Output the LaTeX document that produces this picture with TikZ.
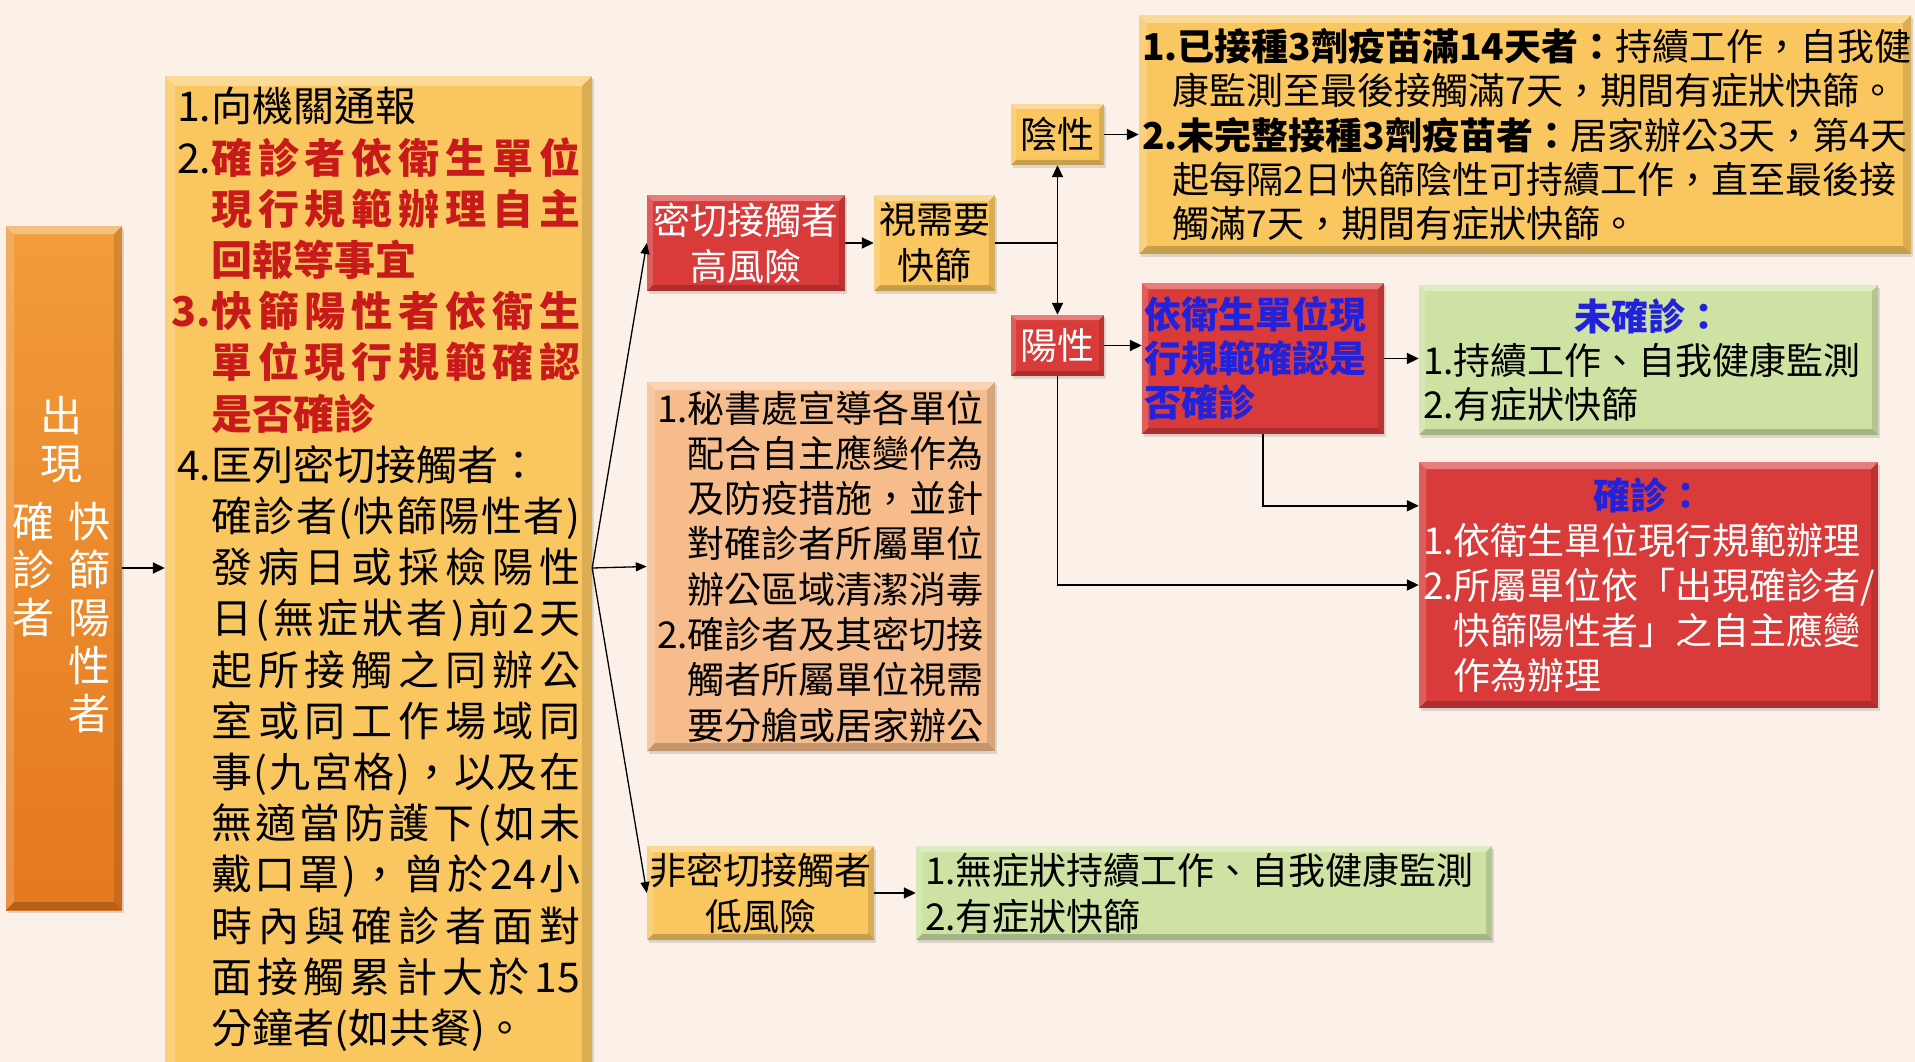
\documentclass[tikz,border=0pt]{standalone}
\usepackage{fontspec}
\setmainfont{Noto Sans CJK TC}
\usetikzlibrary{arrows.meta,shadows}
\definecolor{bg}{HTML}{FBF1E8}
\definecolor{yel}{HTML}{F9C660}
\definecolor{orgT}{HTML}{F29C3C}
\definecolor{orgB}{HTML}{E5781E}
\definecolor{redb}{HTML}{D93A3A}
\definecolor{grn}{HTML}{CEE2A4}
\definecolor{pch}{HTML}{F6BC8C}
\definecolor{rtx}{HTML}{C81A1A}
\definecolor{btx}{HTML}{2222DD}
\makeatletter
\def\spr#1{\spr@a#1\spr@stop\spr@end}
\def\spr@stop{\spr@stop@}
\def\spr@a#1#2\spr@end{#1\ifx\spr@stop#2\else\hfill\spr@a#2\spr@end\fi}
\makeatother
\newcommand\J[1]{\hbox to 369pt{\spr{#1}}}
\newcommand\rd{\color{rtx}\bfseries}
\newcommand\blu{\color{btx}\bfseries}
\newcommand\Lns[1]{\vtop{\lineskiplimit=-100pt\lineskip=0pt\let\\\cr\halign{##\hfil\cr#1\crcr}}}
\newcommand\leftlbl{\vtop{\baselineskip=48pt\lineskiplimit=-100pt\lineskip=0pt\halign{\hfil##\hfil\hskip14pt&\hfil##\hfil\cr\multispan2\hfil 出\hfil\cr\multispan2\hfil 現\hfil\cr\noalign{\vskip10pt}確&快\cr 診&篩\cr 者&陽\cr &性\cr &者\cr}}}
\tikzset{
  bev/.style={path picture={
    \fill[white,opacity=.35] (path picture bounding box.north west) -- (path picture bounding box.north east) -- ([xshift=-#1pt,yshift=-#1pt]path picture bounding box.north east) -- ([xshift=#1pt,yshift=-#1pt]path picture bounding box.north west) -- cycle;
    \fill[white,opacity=.18] (path picture bounding box.north west) -- ([xshift=#1pt,yshift=-#1pt]path picture bounding box.north west) -- ([xshift=#1pt,yshift=#1pt]path picture bounding box.south west) -- (path picture bounding box.south west) -- cycle;
    \fill[black,opacity=.12] (path picture bounding box.north east) -- ([xshift=-#1pt,yshift=-#1pt]path picture bounding box.north east) -- ([xshift=-#1pt,yshift=#1pt]path picture bounding box.south east) -- (path picture bounding box.south east) -- cycle;
    \fill[black,opacity=.2] (path picture bounding box.south west) -- ([xshift=#1pt,yshift=#1pt]path picture bounding box.south west) -- ([xshift=-#1pt,yshift=#1pt]path picture bounding box.south east) -- (path picture bounding box.south east) -- cycle;
  }},
  bx/.style={rectangle, inner sep=0pt, drop shadow={shadow xshift=2pt,shadow yshift=-3pt,opacity=.25}, bev=#1},
  arr/.style={-{Triangle[length=12pt,width=11pt]}, line width=1.8pt},
  farr/.style={-{Triangle[length=11pt,width=9pt]}, line width=1.3pt},
  ln/.style={line width=1.8pt},
  f37/.style={font=\fontsize{37}{46}\selectfont},
}
\begin{document}
\begin{tikzpicture}[x=1pt,y=-1pt]
\useasboundingbox (0,0) rectangle (1915,1062);
\fill[bg] (0,0) rectangle (1915,1062);
% boxes
\node[bx=8, top color=orgT, bottom color=orgB, minimum width=116pt, minimum height=684pt] (left) at (64,568) {};
\node[anchor=base west, inner sep=0pt, text=white, font=\fontsize{42}{48}\selectfont] (leftT) at (12,431) {\leftlbl};
\node[bx=10, fill=yel, minimum width=427pt, minimum height=1000pt] (big) at (378.5,576) {};
\node[anchor=base west, inner sep=0pt, font=\fontsize{41}{51.2}\selectfont] (bigT) at (211,121.9) {\Lns{%
\llap{1.}向機關通報\\
\llap{2.}{\rd\J{確診者依衛生單位}}\\
{\rd\J{現行規範辦理自主}}\\
{\rd 回報等事宜}\\
{\rd\llap{3.}\J{快篩陽性者依衛生}}\\
{\rd\J{單位現行規範確認}}\\
{\rd 是否確診}\\
\llap{4.}匡列密切接觸者：\\
\J{確診者(快篩陽性者)}\\
\J{發病日或採檢陽性}\\
\J{日(無症狀者)前2天}\\
\J{起所接觸之同辦公}\\
\J{室或同工作場域同}\\
\J{事(九宮格)，以及在}\\
\J{無適當防護下(如未}\\
\J{戴口罩)，曾於{24}小}\\
\J{時內與確診者面對}\\
\J{面接觸累計大於{15}}\\
分鐘者(如共餐)。}};
\node[bx=6, fill=redb, minimum width=198pt, minimum height=96pt, f37, text=white, align=center] (hi) at (746,243) {密切接觸者\\高風險};
\node[bx=6, fill=yel, minimum width=121pt, minimum height=96pt, f37, align=center] (need) at (934.5,243) {視需要\\快篩};
\node[bx=5, fill=yel, minimum width=93pt, minimum height=61pt, f37] (neg) at (1057.5,134.5) {陰性};
\node[bx=5, fill=redb, minimum width=93pt, minimum height=61pt, f37, text=white] (pos) at (1057.5,345.5) {陽性};
\node[bx=8, fill=yel, minimum width=772pt, minimum height=239pt, font=\fontsize{37}{44.4}\selectfont, text width=766pt, inner xsep=3pt, align=left] (negT) at (1525,134.5) {{\bfseries 1.已接種3劑疫苗滿14天者：}持續工作，自我健\\\phantom{1.}康監測至最後接觸滿7天，期間有症狀快篩。\\{\bfseries 2.未完整接種3劑疫苗者：}居家辦公3天，第4天\\\phantom{2.}起每隔2日快篩陰性可持續工作，直至最後接\\\phantom{2.}觸滿7天，期間有症狀快篩。};
\node[bx=6, fill=redb, minimum width=242pt, minimum height=151pt, font=\fontsize{37}{44}\selectfont\bfseries, text=btx, text width=238pt, inner xsep=2pt, align=left] (confirm) at (1263,358.5) {依衛生單位現\\行規範確認是\\否確診};
\node[bx=6, fill=grn, minimum width=459pt, minimum height=150pt, font=\fontsize{37}{44}\selectfont, text width=451pt, inner xsep=4pt, align=left] (notc) at (1648.5,360) {\makebox[\linewidth]{\blu 未確診：}\\1.持續工作、自我健康監測\\2.有症狀快篩};
\node[bx=7, fill=redb, minimum width=459pt, minimum height=246pt, font=\fontsize{37}{45}\selectfont, text=white, text width=451pt, inner xsep=4pt, align=left] (conf) at (1648.5,585) {\makebox[\linewidth]{\blu 確診：}\\1.依衛生單位現行規範辦理\\2.所屬單位依「出現確診者/\\\phantom{2.}快篩陽性者」之自主應變\\\phantom{2.}作為辦理};
\node[bx=8, fill=pch, minimum width=348pt, minimum height=369pt, font=\fontsize{37}{45.3}\selectfont, text width=328pt, inner xsep=10pt, align=left] (mid) at (821,566.5) {1.秘書處宣導各單位\\\phantom{1.}配合自主應變作為\\\phantom{1.}及防疫措施，並針\\\phantom{1.}對確診者所屬單位\\\phantom{1.}辦公區域清潔消毒\\2.確診者及其密切接\\\phantom{2.}觸者所屬單位視需\\\phantom{2.}要分艙或居家辦公};
\node[bx=6, fill=yel, minimum width=227pt, minimum height=94pt, f37, align=center] (lo) at (760.5,893) {非密切接觸者\\低風險};
\node[bx=6, fill=grn, minimum width=576pt, minimum height=94pt, f37, text width=558pt, inner xsep=9pt, align=left] (loG) at (1204,893) {1.無症狀持續工作、自我健康監測\\2.有症狀快篩};
% connectors
\draw[arr] (left.east) -- (left.east -| big.west);
\coordinate (fan) at (big.east |- left.east);
\draw[farr] (fan) -- (hi.west);
\draw[farr] (fan) -- (mid.west);
\draw[farr] (fan) -- (lo.west);
\draw[arr] (hi.east) -- (need.west);
\coordinate (jn) at (neg.south |- need.east);
\draw[ln] (need.east) -- (jn);
\draw[arr] (jn) -- (neg.south);
\draw[arr] (jn) -- (pos.north);
\draw[arr] (neg.east) -- (negT.west);
\draw[arr] (pos.east) -- (pos.east -| confirm.west);
\draw[arr] (confirm.east) -- (confirm.east -| notc.west);
\coordinate (cin) at ([yshift=-44pt]conf.north west);
\draw[arr] (confirm.south) |- (cin);
\draw[arr] (pos.south) |- (conf.west);
\draw[arr] (lo.east) -- (loG.west);
\end{tikzpicture}
\end{document}
